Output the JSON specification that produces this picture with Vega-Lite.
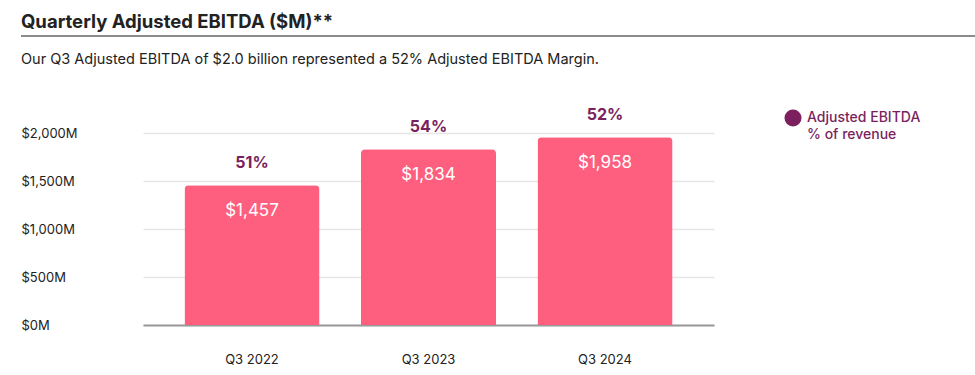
{
  "$schema": "https://vega.github.io/schema/vega-lite/v6.json",
  "padding": {"left": 20, "top": 12, "right": 0, "bottom": 0},
  "background": "white",
  "spacing": 14,
  "config": {
    "font": "Inter",
    "view": {"stroke": null},
    "style": {"guide-label": {"lineHeight": 17}}
  },
  "datasets": {
    "ebitda": [
      {"quarter": "Q3 2022", "ebitda": 1457, "margin": 0.51, "series": "Adjusted EBITDA % of revenue"},
      {"quarter": "Q3 2023", "ebitda": 1834, "margin": 0.54, "series": "Adjusted EBITDA % of revenue"},
      {"quarter": "Q3 2024", "ebitda": 1958, "margin": 0.52, "series": "Adjusted EBITDA % of revenue"}
    ]
  },
  "vconcat": [
    {
      "width": 955,
      "height": 1,
      "title": {
        "text": "Quarterly Adjusted EBITDA ($M)**",
        "anchor": "start",
        "frame": "group",
        "fontSize": 18.5,
        "fontWeight": "bold",
        "color": "#222222",
        "offset": 4
      },
      "data": {"values": [{"v": 1}]},
      "mark": {"type": "rule", "color": "#8c8c8c", "strokeWidth": 2},
      "encoding": {
        "y": {"field": "v", "type": "quantitative", "axis": null, "scale": {"domain": [0, 1]}}
      }
    },
    {
      "title": {
        "text": "Our Q3 Adjusted EBITDA of $2.0 billion represented a 52% Adjusted EBITDA Margin.",
        "anchor": "start",
        "frame": "group",
        "fontSize": 14.5,
        "fontWeight": "normal",
        "color": "#222222",
        "offset": 28
      },
      "spacing": 0,
      "hconcat": [
        {
          "width": 122,
          "height": 230,
          "data": {"name": "ebitda"},
          "mark": {"type": "point", "opacity": 0},
          "encoding": {
            "y": {
              "field": "ebitda",
              "type": "quantitative",
              "title": null,
              "scale": {"domain": [0, 2400]},
              "axis": {
                "values": [0, 500, 1000, 1500, 2000],
                "labelExpr": "'$' + format(datum.value, ',') + 'M'",
                "labelAlign": "left",
                "labelPadding": 0,
                "labelFontSize": 13,
                "labelColor": "#222222",
                "ticks": false,
                "domain": false,
                "grid": false
              }
            }
          }
        },
        {
          "width": 571,
          "height": 230,
          "data": {"name": "ebitda"},
          "encoding": {
            "x": {
              "field": "quarter",
              "type": "nominal",
              "title": null,
              "scale": {"paddingInner": 0.235, "paddingOuter": 0.235},
              "axis": {
                "labelAngle": 0,
                "ticks": false,
                "labelPadding": 28,
                "labelFontSize": 13,
                "labelColor": "#222222",
                "domainColor": "#999999",
                "domainWidth": 2
              }
            },
            "y": {
              "field": "ebitda",
              "type": "quantitative",
              "title": null,
              "scale": {"domain": [0, 2400]},
              "axis": {
                "values": [0, 500, 1000, 1500, 2000],
                "labels": false,
                "ticks": false,
                "domain": false,
                "gridColor": "#e6e6e6",
                "gridWidth": 1.5
              }
            }
          },
          "layer": [
            {
              "mark": {"type": "bar", "color": "#FF5F7E", "cornerRadiusTopLeft": 4, "cornerRadiusTopRight": 4}
            },
            {
              "mark": {"type": "text", "color": "#ffffff", "fontSize": 17, "dy": 26, "baseline": "middle"},
              "encoding": {"text": {"field": "ebitda", "type": "quantitative", "format": "$,.0f"}}
            },
            {
              "mark": {"type": "text", "fontSize": 16, "fontWeight": "bold", "dy": -22, "baseline": "middle"},
              "encoding": {
                "text": {"field": "margin", "type": "quantitative", "format": ".0%"},
                "color": {
                  "field": "series",
                  "type": "nominal",
                  "scale": {"range": ["#7B1F5E"]},
                  "legend": {
                    "title": null,
                    "orient": "none",
                    "legendX": 763,
                    "legendY": 73,
                    "symbolType": "circle",
                    "symbolSize": 290,
                    "symbolFillColor": "#7B1F5E",
                    "symbolStrokeWidth": 0,
                    "symbolOpacity": 1,
                    "labelColor": "#7B1F5E",
                    "labelFontSize": 14,
                    "labelFontWeight": 500,
                    "labelOffset": 5,
                    "labelExpr": "['Adjusted EBITDA', '% of revenue']",
                    "labelLimit": 200
                  }
                }
              }
            }
          ]
        }
      ]
    }
  ]
}
